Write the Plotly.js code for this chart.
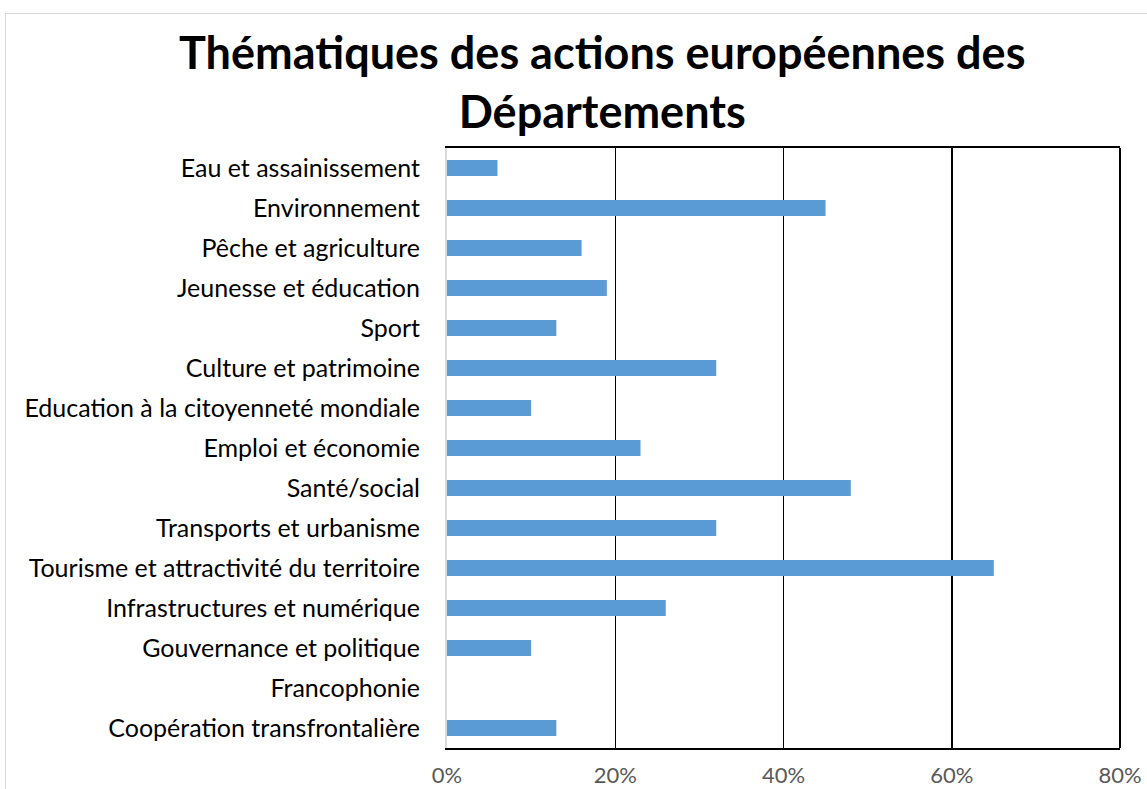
<!DOCTYPE html>
<html><head><meta charset="utf-8">
<script src="https://cdn.plot.ly/plotly-3.0.1.min.js"></script>
<style>
html,body{margin:0;padding:0;background:#fff;overflow:hidden;}
#frame{position:absolute;left:5px;top:13px;width:1300px;height:900px;border:1px solid #d9d9d9;}
#chart{position:absolute;left:0;top:0;width:1147px;height:789px;}
</style></head>
<body>
<div id="frame"></div>
<div id="chart"></div>
<script>
const categories = [
  "Eau et assainissement",
  "Environnement",
  "Pêche et agriculture",
  "Jeunesse et éducation",
  "Sport",
  "Culture et patrimoine",
  "Education à la citoyenneté mondiale",
  "Emploi et économie",
  "Santé/social",
  "Transports et urbanisme",
  "Tourisme et attractivité du territoire",
  "Infrastructures et numérique",
  "Gouvernance et politique",
  "Francophonie",
  "Coopération transfrontalière"
];
const values = [0.06, 0.45, 0.16, 0.19, 0.13, 0.32, 0.10, 0.23, 0.48, 0.32, 0.65, 0.26, 0.10, 0.00, 0.13];
const tickVals = [0, 0.2, 0.4, 0.6, 0.8];
const tickLabels = ["0%", "20%", "40%", "60%", "80%"];
const titleText = "Thématiques des actions européennes des<br>Départements";

const font = "Lato, 'Open Sans', sans-serif";
Plotly.newPlot("chart", [{
  type: "bar",
  orientation: "h",
  y: categories,
  x: values,
  marker: {color: "#5b9bd5"},
  hoverinfo: "x+y"
}], {
  width: 1147, height: 789,
  paper_bgcolor: "rgba(0,0,0,0)",
  plot_bgcolor: "#fff",
  margin: {l: 447, r: 27, t: 148, b: 41},
  bargap: 0.6,
  showlegend: false,
  annotations: [{
    text: titleText,
    font: {family: font, size: 45, color: "#000", weight: "bold"},
    xref: "paper", yref: "paper",
    x: 0.23, xanchor: "center",
    y: 1.11, yanchor: "middle",
    showarrow: false
  }],
  shapes: [{
    type: "line", xref: "paper", yref: "paper",
    x0: 1, x1: 1, y0: 0, y1: 1,
    line: {color: "#000", width: 2}
  }],
  xaxis: {
    range: [0, 0.8],
    tickvals: tickVals, ticktext: tickLabels,
    showgrid: true, gridcolor: "#000", gridwidth: 1.5,
    showline: true, linecolor: "#000", linewidth: 2, mirror: true,
    zeroline: false,
    ticks: "", ticklabelstandoff: 7,
    tickfont: {family: font, size: 22, color: "#595959"},
    fixedrange: true
  },
  yaxis: {
    autorange: "reversed",
    showline: true, linecolor: "#d9d9d9", linewidth: 2,
    showgrid: false, zeroline: false,
    ticks: "", ticklabelstandoff: 20,
    tickfont: {family: font, size: 25, color: "#000"},
    fixedrange: true
  }
}, {displayModeBar: false, staticPlot: true});
</script>
</body></html>
